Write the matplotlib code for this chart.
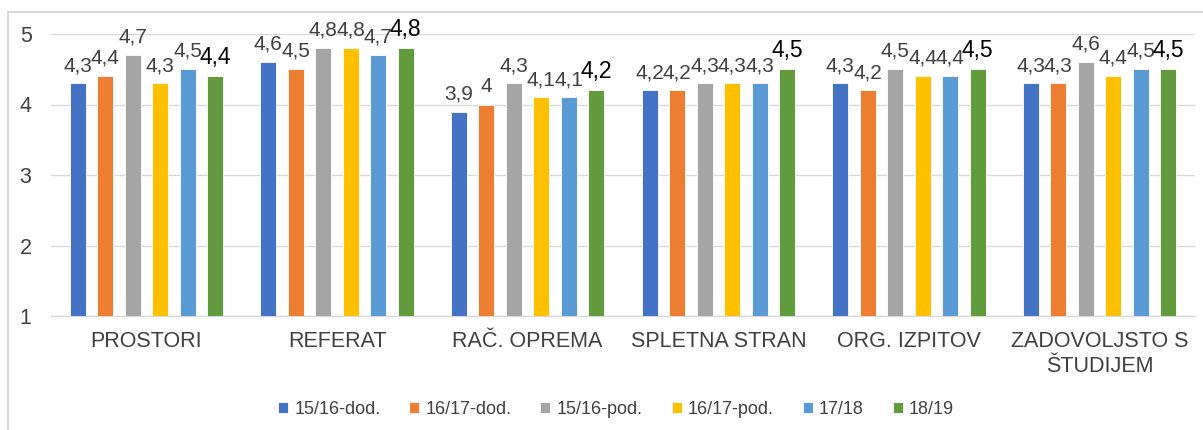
import matplotlib
matplotlib.use("Agg")
import matplotlib.pyplot as plt
from matplotlib.patches import Rectangle
import numpy as np

categories = ["PROSTORI", "REFERAT", "RAČ. OPREMA", "SPLETNA STRAN", "ORG. IZPITOV", "ZADOVOLJSTO S\nŠTUDIJEM"]
series_names = ["15/16-dod.", "16/17-dod.", "15/16-pod.", "16/17-pod.", "17/18", "18/19"]
v_1516_dod = [4.3, 4.6, 3.9, 4.2, 4.3, 4.3]
v_1617_dod = [4.4, 4.5, 4.0, 4.2, 4.2, 4.3]
v_1516_pod = [4.7, 4.8, 4.3, 4.3, 4.5, 4.6]
v_1617_pod = [4.3, 4.8, 4.1, 4.3, 4.4, 4.4]
v_1718 = [4.5, 4.7, 4.1, 4.3, 4.4, 4.5]
v_1819 = [4.4, 4.8, 4.2, 4.5, 4.5, 4.5]
series_values = [v_1516_dod, v_1617_dod, v_1516_pod, v_1617_pod, v_1718, v_1819]
colors = ["#4472C4", "#ED7D31", "#A5A5A5", "#FFC000", "#5B9BD5", "#629B3E"]
yticks = [1, 2, 3, 4, 5]

plt.rcParams['font.family'] = ['Liberation Sans', 'DejaVu Sans']

fig = plt.figure(figsize=(12.03, 4.30), dpi=100)
ax = fig.add_axes([51/1203, 1-316/430, (1195-51)/1203, (316-34)/430])

# outer frame (cropped at right/bottom)
fig.patches.append(Rectangle((8/1203, -0.05), 1.2, 1-12/430+0.05, transform=fig.transFigure,
                             fill=False, edgecolor="#D9D9D9", linewidth=1.5, zorder=0))

x = np.arange(len(categories))
pitch = 27.5/190.7
width = 16/190.7
for i, (name, vals, c) in enumerate(zip(series_names, series_values, colors)):
    pos = x + (i - 2.5) * pitch
    ax.bar(pos, [v - 1 for v in vals], bottom=1, width=width, color=c,
           edgecolor="white", linewidth=0.6, label=name, zorder=3)
    for p, v in zip(pos, vals):
        lbl = f"{v:g}".replace(".", ",")
        if i == 5:
            ax.annotate(lbl, (p, v), xytext=(0, 5), textcoords="offset points",
                        ha="center", va="bottom", fontsize=16.5, color="black",
                        zorder=4, annotation_clip=False)
        else:
            ax.annotate(lbl, (p, v), xytext=(0, 6), textcoords="offset points",
                        ha="center", va="bottom", fontsize=15, color="#404040",
                        zorder=4, annotation_clip=False)

ax.set_xlim(-0.5, len(categories) - 0.5)
ax.set_ylim(1, 5)
ax.set_yticks(yticks)
ax.set_yticklabels([str(t) for t in yticks], fontsize=15.5, color="#404040")
ax.set_xticks(x)
ax.set_xticklabels(categories, fontsize=15.5, color="#404040", linespacing=1.25)
ax.tick_params(axis="x", length=0, pad=11)
ax.tick_params(axis="y", length=0, pad=14)
ax.yaxis.grid(True, color="#D9D9D9", linewidth=1, zorder=0)
ax.set_axisbelow(True)
for s in ["top", "right", "left"]:
    ax.spines[s].set_visible(False)
ax.spines["bottom"].set_color("#D9D9D9")
ax.spines["bottom"].set_linewidth(1)

leg = fig.legend(loc="center", bbox_to_anchor=(616/1203, 1-409/430), ncol=6, frameon=False,
                 fontsize=13, handlelength=0.55, handleheight=0.55, handletextpad=0.35,
                 columnspacing=1.6)
for t in leg.get_texts():
    t.set_color("#404040")

fig.savefig("out.png", dpi=100)
